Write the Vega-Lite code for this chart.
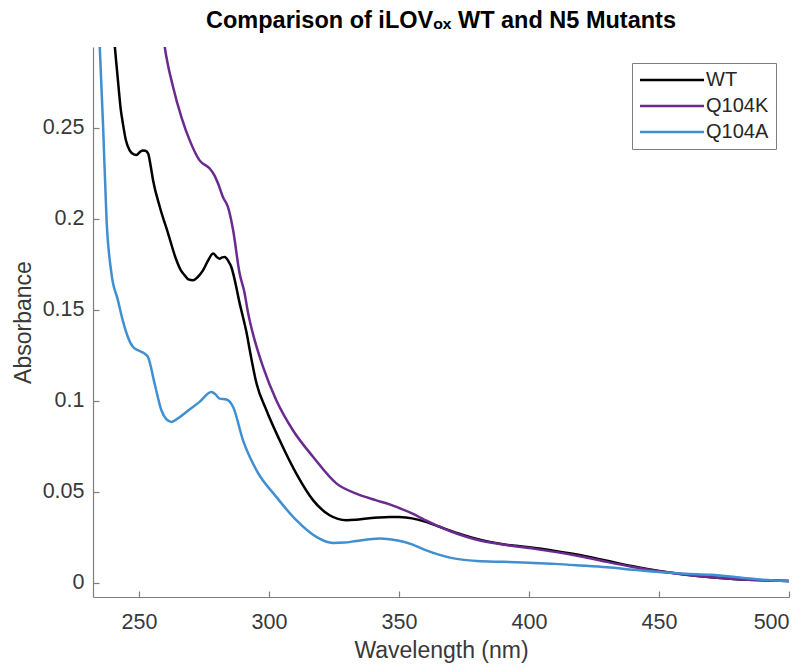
{
  "$schema": "https://vega.github.io/schema/vega-lite/v6.json",
  "width": 696,
  "height": 550,
  "autosize": {"type": "none"},
  "padding": {"left": 93, "top": 47, "right": 22, "bottom": 68},
  "background": "#ffffff",
  "title": {
    "text": "Comparison of iLOVₒₓ WT and N5 Mutants",
    "font": "Liberation Sans",
    "fontSize": 23.5,
    "fontWeight": "bold",
    "color": "#000000",
    "anchor": "middle",
    "offset": 15
  },
  "config": {
    "view": {"stroke": null},
    "axis": {
      "grid": false,
      "domainColor": "#7f7f7f",
      "domainWidth": 1.2,
      "tickColor": "#7f7f7f",
      "tickWidth": 1.2,
      "tickSize": -6,
      "labelFont": "Liberation Sans",
      "labelFontSize": 21.5,
      "labelColor": "#383838",
      "titleFont": "Liberation Sans",
      "titleFontSize": 23,
      "titleFontWeight": "normal",
      "titleColor": "#383838"
    }
  },
  "data": {
    "values": [
      {"w": 239.0, "a": 0.32, "s": "WT"},
      {"w": 240.7, "a": 0.2945, "s": "WT"},
      {"w": 241.9, "a": 0.276, "s": "WT"},
      {"w": 243.0, "a": 0.26, "s": "WT"},
      {"w": 243.8, "a": 0.2524, "s": "WT"},
      {"w": 245.0, "a": 0.243, "s": "WT"},
      {"w": 246.4, "a": 0.2377, "s": "WT"},
      {"w": 248.0, "a": 0.2355, "s": "WT"},
      {"w": 249.0, "a": 0.2352, "s": "WT"},
      {"w": 250.5, "a": 0.237, "s": "WT"},
      {"w": 251.5, "a": 0.2377, "s": "WT"},
      {"w": 252.5, "a": 0.2375, "s": "WT"},
      {"w": 253.5, "a": 0.236, "s": "WT"},
      {"w": 254.5, "a": 0.229, "s": "WT"},
      {"w": 255.4, "a": 0.2213, "s": "WT"},
      {"w": 258.0, "a": 0.2066, "s": "WT"},
      {"w": 261.2, "a": 0.192, "s": "WT"},
      {"w": 264.4, "a": 0.1773, "s": "WT"},
      {"w": 266.0, "a": 0.172, "s": "WT"},
      {"w": 267.6, "a": 0.169, "s": "WT"},
      {"w": 269.0, "a": 0.1668, "s": "WT"},
      {"w": 270.8, "a": 0.1663, "s": "WT"},
      {"w": 272.5, "a": 0.168, "s": "WT"},
      {"w": 274.6, "a": 0.1718, "s": "WT"},
      {"w": 276.5, "a": 0.177, "s": "WT"},
      {"w": 278.5, "a": 0.181, "s": "WT"},
      {"w": 280.0, "a": 0.179, "s": "WT"},
      {"w": 281.0, "a": 0.1782, "s": "WT"},
      {"w": 282.0, "a": 0.1789, "s": "WT"},
      {"w": 283.0, "a": 0.1791, "s": "WT"},
      {"w": 284.3, "a": 0.177, "s": "WT"},
      {"w": 285.5, "a": 0.1736, "s": "WT"},
      {"w": 287.5, "a": 0.162, "s": "WT"},
      {"w": 288.5, "a": 0.155, "s": "WT"},
      {"w": 290.0, "a": 0.146, "s": "WT"},
      {"w": 291.3, "a": 0.138, "s": "WT"},
      {"w": 292.6, "a": 0.1279, "s": "WT"},
      {"w": 295.2, "a": 0.1096, "s": "WT"},
      {"w": 299.0, "a": 0.0949, "s": "WT"},
      {"w": 304.1, "a": 0.0784, "s": "WT"},
      {"w": 310.5, "a": 0.0601, "s": "WT"},
      {"w": 317.0, "a": 0.0454, "s": "WT"},
      {"w": 323.3, "a": 0.0372, "s": "WT"},
      {"w": 326.5, "a": 0.0352, "s": "WT"},
      {"w": 329.8, "a": 0.0345, "s": "WT"},
      {"w": 333.5, "a": 0.0348, "s": "WT"},
      {"w": 337.5, "a": 0.0354, "s": "WT"},
      {"w": 342.0, "a": 0.036, "s": "WT"},
      {"w": 346.4, "a": 0.0363, "s": "WT"},
      {"w": 350, "a": 0.0362, "s": "WT"},
      {"w": 355, "a": 0.0355, "s": "WT"},
      {"w": 360, "a": 0.0337, "s": "WT"},
      {"w": 365, "a": 0.0312, "s": "WT"},
      {"w": 370, "a": 0.0286, "s": "WT"},
      {"w": 375, "a": 0.0262, "s": "WT"},
      {"w": 380, "a": 0.0242, "s": "WT"},
      {"w": 385, "a": 0.0226, "s": "WT"},
      {"w": 390, "a": 0.0213, "s": "WT"},
      {"w": 395, "a": 0.0204, "s": "WT"},
      {"w": 400, "a": 0.0196, "s": "WT"},
      {"w": 410, "a": 0.0176, "s": "WT"},
      {"w": 420, "a": 0.0152, "s": "WT"},
      {"w": 430, "a": 0.0122, "s": "WT"},
      {"w": 440, "a": 0.0092, "s": "WT"},
      {"w": 450, "a": 0.0066, "s": "WT"},
      {"w": 460, "a": 0.0046, "s": "WT"},
      {"w": 470, "a": 0.0031, "s": "WT"},
      {"w": 480, "a": 0.0021, "s": "WT"},
      {"w": 490, "a": 0.0015, "s": "WT"},
      {"w": 500, "a": 0.0011, "s": "WT"},

      {"w": 258.5, "a": 0.31, "s": "Q104K"},
      {"w": 259.9, "a": 0.2945, "s": "Q104K"},
      {"w": 263.1, "a": 0.2725, "s": "Q104K"},
      {"w": 266.3, "a": 0.256, "s": "Q104K"},
      {"w": 269.5, "a": 0.2432, "s": "Q104K"},
      {"w": 273.3, "a": 0.2322, "s": "Q104K"},
      {"w": 277.2, "a": 0.2277, "s": "Q104K"},
      {"w": 279.0, "a": 0.224, "s": "Q104K"},
      {"w": 280.4, "a": 0.2195, "s": "Q104K"},
      {"w": 282.3, "a": 0.212, "s": "Q104K"},
      {"w": 284.2, "a": 0.2066, "s": "Q104K"},
      {"w": 286.2, "a": 0.1938, "s": "Q104K"},
      {"w": 288.7, "a": 0.17, "s": "Q104K"},
      {"w": 290.5, "a": 0.16, "s": "Q104K"},
      {"w": 292.0, "a": 0.148, "s": "Q104K"},
      {"w": 293.8, "a": 0.137, "s": "Q104K"},
      {"w": 297.7, "a": 0.1187, "s": "Q104K"},
      {"w": 302.8, "a": 0.1004, "s": "Q104K"},
      {"w": 309.2, "a": 0.0839, "s": "Q104K"},
      {"w": 317.0, "a": 0.0692, "s": "Q104K"},
      {"w": 326.0, "a": 0.0546, "s": "Q104K"},
      {"w": 333.6, "a": 0.0491, "s": "Q104K"},
      {"w": 341.3, "a": 0.0454, "s": "Q104K"},
      {"w": 346.4, "a": 0.0432, "s": "Q104K"},
      {"w": 350, "a": 0.0412, "s": "Q104K"},
      {"w": 355, "a": 0.0382, "s": "Q104K"},
      {"w": 360, "a": 0.0346, "s": "Q104K"},
      {"w": 365, "a": 0.0312, "s": "Q104K"},
      {"w": 370, "a": 0.0283, "s": "Q104K"},
      {"w": 375, "a": 0.0258, "s": "Q104K"},
      {"w": 380, "a": 0.0238, "s": "Q104K"},
      {"w": 390, "a": 0.0212, "s": "Q104K"},
      {"w": 400, "a": 0.0192, "s": "Q104K"},
      {"w": 410, "a": 0.0171, "s": "Q104K"},
      {"w": 420, "a": 0.0146, "s": "Q104K"},
      {"w": 430, "a": 0.0116, "s": "Q104K"},
      {"w": 440, "a": 0.0088, "s": "Q104K"},
      {"w": 450, "a": 0.0064, "s": "Q104K"},
      {"w": 460, "a": 0.0045, "s": "Q104K"},
      {"w": 470, "a": 0.0031, "s": "Q104K"},
      {"w": 480, "a": 0.0021, "s": "Q104K"},
      {"w": 490, "a": 0.0015, "s": "Q104K"},
      {"w": 500, "a": 0.0011, "s": "Q104K"},

      {"w": 234.0, "a": 0.32, "s": "Q104A"},
      {"w": 234.9, "a": 0.2945, "s": "Q104A"},
      {"w": 236.2, "a": 0.2505, "s": "Q104A"},
      {"w": 237.5, "a": 0.2, "s": "Q104A"},
      {"w": 239.4, "a": 0.17, "s": "Q104A"},
      {"w": 241.9, "a": 0.1553, "s": "Q104A"},
      {"w": 243.8, "a": 0.144, "s": "Q104A"},
      {"w": 245.5, "a": 0.136, "s": "Q104A"},
      {"w": 247.7, "a": 0.1297, "s": "Q104A"},
      {"w": 250.9, "a": 0.127, "s": "Q104A"},
      {"w": 252.2, "a": 0.126, "s": "Q104A"},
      {"w": 253.5, "a": 0.124, "s": "Q104A"},
      {"w": 256.0, "a": 0.1096, "s": "Q104A"},
      {"w": 258.6, "a": 0.0949, "s": "Q104A"},
      {"w": 260.5, "a": 0.09, "s": "Q104A"},
      {"w": 262.5, "a": 0.0885, "s": "Q104A"},
      {"w": 265.0, "a": 0.0905, "s": "Q104A"},
      {"w": 268.2, "a": 0.094, "s": "Q104A"},
      {"w": 273.3, "a": 0.0995, "s": "Q104A"},
      {"w": 277.8, "a": 0.105, "s": "Q104A"},
      {"w": 279.5, "a": 0.1035, "s": "Q104A"},
      {"w": 281.0, "a": 0.1013, "s": "Q104A"},
      {"w": 283.6, "a": 0.1008, "s": "Q104A"},
      {"w": 286.2, "a": 0.0967, "s": "Q104A"},
      {"w": 290.0, "a": 0.0784, "s": "Q104A"},
      {"w": 295.2, "a": 0.0619, "s": "Q104A"},
      {"w": 302.8, "a": 0.0473, "s": "Q104A"},
      {"w": 310.5, "a": 0.0345, "s": "Q104A"},
      {"w": 318.2, "a": 0.0253, "s": "Q104A"},
      {"w": 324.6, "a": 0.022, "s": "Q104A"},
      {"w": 329.0, "a": 0.0222, "s": "Q104A"},
      {"w": 333.6, "a": 0.0231, "s": "Q104A"},
      {"w": 342.6, "a": 0.0244, "s": "Q104A"},
      {"w": 346.4, "a": 0.024, "s": "Q104A"},
      {"w": 350, "a": 0.0232, "s": "Q104A"},
      {"w": 355, "a": 0.0212, "s": "Q104A"},
      {"w": 360, "a": 0.0182, "s": "Q104A"},
      {"w": 365, "a": 0.0157, "s": "Q104A"},
      {"w": 370, "a": 0.0138, "s": "Q104A"},
      {"w": 375, "a": 0.0127, "s": "Q104A"},
      {"w": 380, "a": 0.0121, "s": "Q104A"},
      {"w": 390, "a": 0.0116, "s": "Q104A"},
      {"w": 400, "a": 0.0111, "s": "Q104A"},
      {"w": 410, "a": 0.0105, "s": "Q104A"},
      {"w": 420, "a": 0.0096, "s": "Q104A"},
      {"w": 430, "a": 0.0086, "s": "Q104A"},
      {"w": 440, "a": 0.0073, "s": "Q104A"},
      {"w": 450, "a": 0.006, "s": "Q104A"},
      {"w": 460, "a": 0.0051, "s": "Q104A"},
      {"w": 470, "a": 0.0045, "s": "Q104A"},
      {"w": 480, "a": 0.0031, "s": "Q104A"},
      {"w": 490, "a": 0.0018, "s": "Q104A"},
      {"w": 500, "a": 0.001, "s": "Q104A"}
    ]
  },
  "mark": {"type": "line", "clip": true, "strokeWidth": 2.5, "interpolate": "monotone"},
  "encoding": {
    "x": {
      "field": "w",
      "type": "quantitative",
      "scale": {"domain": [232.3, 500], "nice": false, "zero": false},
      "axis": {
        "title": "Wavelength (nm)",
        "values": [250, 300, 350, 400, 450, 500],
        "format": "d",
        "labelPadding": 20,
        "titlePadding": 7
      }
    },
    "y": {
      "field": "a",
      "type": "quantitative",
      "scale": {"domain": [-0.0077, 0.2945], "nice": false, "zero": false},
      "axis": {
        "title": "Absorbance",
        "values": [0, 0.05, 0.1, 0.15, 0.2, 0.25],
        "format": "~g",
        "labelPadding": 15,
        "titlePadding": 7
      }
    },
    "color": {
      "field": "s",
      "type": "nominal",
      "sort": ["WT", "Q104K", "Q104A"],
      "scale": {"domain": ["WT", "Q104K", "Q104A"], "range": ["#000000", "#6a2a8e", "#3f8fd2"]},
      "legend": {
        "orient": "none",
        "legendX": 539,
        "legendY": 16,
        "title": null,
        "symbolType": "M-4,0H4",
        "symbolSize": 256,
        "symbolStrokeWidth": 2.5,
        "labelFont": "Liberation Sans",
        "labelFontSize": 20,
        "labelColor": "#262626",
        "strokeColor": "#7f7f7f",
        "fillColor": "#ffffff",
        "padding": 7,
        "rowPadding": 6,
        "symbolOffset": 23,
        "labelOffset": 24
      }
    }
  }
}
